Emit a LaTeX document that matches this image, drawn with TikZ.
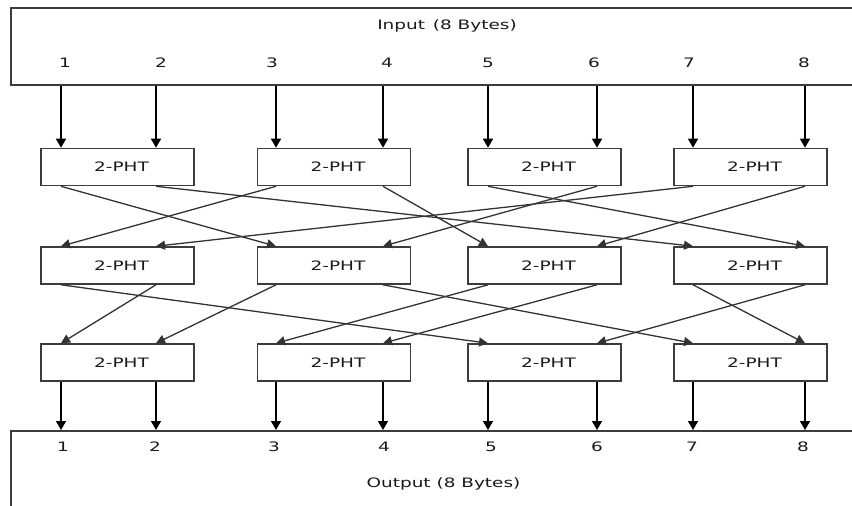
\documentclass[tikz,border=0pt]{standalone}
\usepackage{fontspec}
\setmainfont{DejaVu Sans}[FakeStretch=1.42]
\usetikzlibrary{arrows.meta}
\definecolor{txt}{HTML}{1A1A1A}
\definecolor{boxc}{HTML}{3C3C3C}
\definecolor{wirec}{HTML}{333333}
\begin{document}
\begin{tikzpicture}[x=1pt,y=-1pt,
  every node/.style={font=\fontsize{13}{15}\selectfont, text=txt},
  pht/.style={draw=boxc, line width=1.6pt, fill=white, minimum width=153pt, minimum height=37pt, inner sep=0pt},
  iobox/.style={draw=boxc, line width=1.5pt, inner sep=0pt, anchor=north west},
  feed/.style={line width=1.6pt, draw=black, -{Triangle[length=9pt,width=10pt]}},
  wire/.style={line width=1.3pt, draw=wirec, -{Triangle[length=9pt,width=9pt]}}]
\useasboundingbox (0,0) rectangle (852,506);
\clip (0,0) rectangle (852,506);
% input / output boxes (open on the right / bottom)
\node[iobox, minimum width=860pt, minimum height=77pt] (inbox) at (10,7) {};
\node[iobox, minimum width=860pt, minimum height=100pt] (outbox) at (10,430) {};
\node (inlabel) at (447,26) {Input\hspace{0.6em}(8 Bytes)};
\node (outlabel) at (443.5,484) {Output (8 Bytes)};
% columns
\foreach \i/\x in {1/61,2/156,3/276,4/383,5/488,6/597,7/693,8/805}
  \coordinate (c\i) at (\x,0);
% numbers
\foreach \i/\x in {1/65,2/161,3/272,4/387,5/488,6/594,7/689,8/804}
  \node (innum\i) at (\x,63) {\i};
\foreach \i/\x in {1/63,2/155,3/274,4/384,5/491,6/597,7/692,8/803}
  \node (outnum\i) at (\x,447) {\i};
% 2-PHT boxes
\foreach \r/\y in {1/167,2/265.5,3/362.5}
  \foreach \b/\x in {1/117.5,2/334,3/544.5,4/750.5}
    \node[pht] (r\r b\b) at (\x,\y) {\hspace*{8pt}2-PHT};
% input and output feeds
\foreach \i in {1,...,8}{
  \pgfmathtruncatemacro\bx{ceil(\i/2)}
  \draw[feed] (inbox.south -| c\i) -- (r1b\bx.north -| c\i);
  \draw[feed] (r3b\bx.south -| c\i) -- (outbox.north -| c\i);
}
% row 1 -> row 2
\foreach \a/\b in {1/3,2/7,3/1,4/5,5/8,6/4,7/2,8/6}{
  \pgfmathtruncatemacro\ba{ceil(\a/2)}
  \pgfmathtruncatemacro\bb{ceil(\b/2)}
  \draw[wire] (r1b\ba.south -| c\a) -- (r2b\bb.north -| c\b);
}
% row 2 -> row 3
\foreach \a/\b in {1/5,2/1,3/2,4/7,5/3,6/4,7/8,8/6}{
  \pgfmathtruncatemacro\ba{ceil(\a/2)}
  \pgfmathtruncatemacro\bb{ceil(\b/2)}
  \draw[wire] (r2b\ba.south -| c\a) -- (r3b\bb.north -| c\b);
}
\end{tikzpicture}
\end{document}
